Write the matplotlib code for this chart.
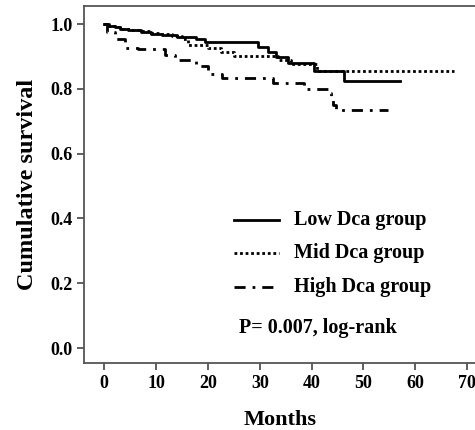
import matplotlib
matplotlib.use("Agg")
import matplotlib.pyplot as plt

# Kaplan-Meier step data (months, cumulative survival)
low_t = [0, 1, 2, 3, 4.6, 7, 9, 11.2, 14, 17.6, 19.5, 29.6, 31.5, 33.1, 35.4, 40.4, 46.2, 57]
low_s = [1.0, 0.995, 0.99, 0.985, 0.981, 0.976, 0.971, 0.966, 0.961, 0.954, 0.945, 0.930, 0.915,
         0.899, 0.879, 0.855, 0.824, 0.824]

mid_t = [0, 1, 2, 3, 5, 7, 9, 11, 13, 15, 16.2, 20, 22.5, 25, 33.5, 36, 41, 67.5]
mid_s = [1.0, 0.995, 0.99, 0.986, 0.982, 0.978, 0.974, 0.97, 0.964, 0.955, 0.937, 0.927, 0.913,
         0.902, 0.889, 0.877, 0.855, 0.855]

high_t = [0, 0.5, 2, 4, 6.5, 11.8, 13.7, 17.6, 20.1, 22.8, 32.5, 38.5, 43.3, 43.8, 44.2, 44.7, 54.7]
high_s = [1.0, 0.977, 0.955, 0.927, 0.923, 0.904, 0.889, 0.87, 0.846, 0.833, 0.818, 0.80, 0.787,
          0.765, 0.75, 0.735, 0.735]

group_labels = ["Low Dca group", "Mid Dca group", "High Dca group"]
p_text = "P= 0.007, log-rank"
x_ticks = [0, 10, 20, 30, 40, 50, 60, 70]
y_ticks = [0.0, 0.2, 0.4, 0.6, 0.8, 1.0]

plt.rcParams["font.family"] = ["Liberation Serif", "DejaVu Serif"]
plt.rcParams["font.weight"] = "bold"

fig = plt.figure(figsize=(4.75, 4.3), dpi=100)
ax = fig.add_axes([0.177, 0.156, 0.826, 0.830])

dotted = (0, (1, 1))
dashdot = (0, (4, 2.5, 1, 2.5))
ax.step(low_t, low_s, where="post", color="black", lw=2.0, linestyle="-")
ax.step(mid_t, mid_s, where="post", color="black", lw=2.0, linestyle=dotted)
ax.step(high_t, high_s, where="post", color="black", lw=2.0, linestyle=dashdot)

ax.set_xlim(-3.9, 71.8)
ax.set_ylim(-0.046, 1.056)
ax.set_xticks(x_ticks)
ax.set_yticks(y_ticks)
ax.set_yticklabels([f"{v:.1f}" for v in y_ticks])
ax.tick_params(direction="out", length=5, width=1.2, labelsize=13, color="#444444")
for lab in ax.get_xticklabels() + ax.get_yticklabels():
    lab.set_fontweight("bold")

for side in ["left", "bottom", "top", "right"]:
    ax.spines[side].set_color("#555555")
    ax.spines[side].set_linewidth(1.3)

ax.set_xlabel("Months", fontsize=16, fontweight="bold", labelpad=13)
ax.set_ylabel("Cumulative survival", fontsize=17.5, fontweight="bold", labelpad=9)

# legend drawn by hand, as in the original figure
styles = ["-", dotted, dashdot]
leg_y = [0.395, 0.293, 0.188]
for lab, ls, yy in zip(group_labels, styles, leg_y):
    ax.plot([25.0, 33.8], [yy, yy], color="black", lw=2.0, linestyle=ls)
    ax.text(36.6, yy, lab, fontsize=14.5, fontweight="bold", va="center", ha="left")
ax.text(25.9, 0.062, p_text, fontsize=14.5, fontweight="bold", va="center", ha="left")

fig.savefig("out.png", dpi=100)
